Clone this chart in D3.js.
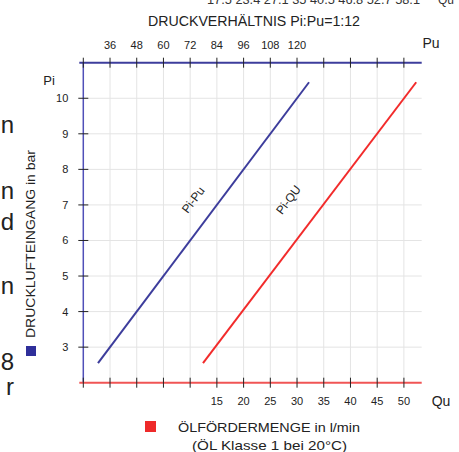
<!DOCTYPE html>
<html>
<head>
<meta charset="utf-8">
<script src="https://cdn.jsdelivr.net/npm/d3@7"></script>
<style>
  html, body { margin: 0; padding: 0; background: #fff; }
  svg { display: block; font-family: 'Liberation Sans', Arial, sans-serif; }
</style>
</head>
<body>
<svg id="chart" width="459" height="452"></svg>
<script>
// Pi (inlet pressure, bar) against Pu (outlet pressure) and Qu (oil flow l/min)
const piVals = [2.55, 10.45]
const puVals = [30.6, 125.4]
const quVals = [12.4, 52.3]

const piTicks = [3, 4, 5, 6, 7, 8, 9, 10]
const puTicks = [36, 48, 60, 72, 84, 96, 108, 120, 132, 144, 156, 168]
const puLabels = [36, 48, 60, 72, 84, 96, 108, 120]
const quTicks = [-5, 0, 5, 10, 15, 20, 25, 30, 35, 40, 45, 50]
const quLabels = [15, 20, 25, 30, 35, 40, 45, 50]

// clipped bits of a neighbouring table / page
const topCutText = '17.5 23.4 27.1 35 40.5 46.8 52.7 58.1'
const leftCutLetters = [
  { t: 'n', y: 133 }, { t: 'n', y: 199 }, { t: 'd', y: 230 },
  { t: 'n', y: 294 }, { t: '8', y: 370 }, { t: 'r', y: 395 }
]

const BLUE = '#3d3d9c'
const RED = '#f22b2b'
const GRID = '#e4e4e4'

const L = 83.3, R = 421.7, T = 62.7, B = 382.7

const svg = d3.select('#chart')

const x = d3.scaleLinear().domain([24, 176]).range([L, R])
const xq = d3.scaleLinear().domain([-10, 53.33]).range([L, R])
const y = d3.scaleLinear().domain([2, 11]).range([B, T])

// grid
svg.append('g')
  .selectAll('line')
  .data(puTicks)
  .join('line')
  .attr('x1', d => x(d)).attr('x2', d => x(d))
  .attr('y1', T).attr('y2', B)
  .attr('stroke', GRID).attr('stroke-width', 1)

svg.append('g')
  .selectAll('line')
  .data(piTicks)
  .join('line')
  .attr('x1', L).attr('x2', R)
  .attr('y1', d => y(d)).attr('y2', d => y(d))
  .attr('stroke', GRID).attr('stroke-width', 1)

// axes lines
svg.append('line')
  .attr('x1', L).attr('x2', L).attr('y1', T).attr('y2', B)
  .attr('stroke', '#5050b8').attr('stroke-width', 1.5)
svg.append('line')
  .attr('x1', L - 4).attr('x2', R).attr('y1', T).attr('y2', T)
  .attr('stroke', BLUE).attr('stroke-width', 2)
svg.append('line')
  .attr('x1', L - 4).attr('x2', R).attr('y1', B).attr('y2', B)
  .attr('stroke', '#f05555').attr('stroke-width', 2)

// ticks (crossing the axis)
const tickG = svg.append('g').attr('stroke', '#222').attr('stroke-width', 1)
tickG.selectAll('line.top')
  .data([24].concat(puTicks))
  .join('line')
  .attr('class', 'top')
  .attr('x1', d => x(d)).attr('x2', d => x(d))
  .attr('y1', T - 5).attr('y2', T + 5)
tickG.selectAll('line.bot')
  .data([-10].concat(quTicks))
  .join('line')
  .attr('class', 'bot')
  .attr('x1', d => xq(d)).attr('x2', d => xq(d))
  .attr('y1', B - 5).attr('y2', B + 5)
tickG.selectAll('line.left')
  .data(piTicks)
  .join('line')
  .attr('class', 'left')
  .attr('x1', L - 5).attr('x2', L + 5)
  .attr('y1', d => y(d)).attr('y2', d => y(d))

// tick labels
svg.append('g')
  .selectAll('text')
  .data(puLabels)
  .join('text')
  .attr('x', d => x(d)).attr('y', 49)
  .attr('text-anchor', 'middle')
  .attr('font-size', 11).attr('fill', '#222')
  .text(d => d)

svg.append('g')
  .selectAll('text')
  .data(quLabels)
  .join('text')
  .attr('x', d => xq(d)).attr('y', 405)
  .attr('text-anchor', 'middle')
  .attr('font-size', 11).attr('fill', '#222')
  .text(d => d)

svg.append('g')
  .selectAll('text')
  .data(piTicks)
  .join('text')
  .attr('x', L - 15).attr('y', d => y(d) + 4)
  .attr('text-anchor', 'end')
  .attr('font-size', 11).attr('fill', '#222')
  .text(d => d)

// axis names
svg.append('text').attr('x', 49).attr('y', 85).attr('text-anchor', 'middle')
  .attr('font-size', 13).attr('fill', '#222').text('Pi')
svg.append('text').attr('x', 431).attr('y', 48).attr('text-anchor', 'middle')
  .attr('font-size', 14).attr('fill', '#222').text('Pu')
svg.append('text').attr('x', 441).attr('y', 406).attr('text-anchor', 'middle')
  .attr('font-size', 14).attr('fill', '#222').text('Qu')

// the two curves
const pts = piVals.map((p, i) => ({ pi: p, pu: puVals[i], qu: quVals[i] }))
svg.append('path')
  .datum(pts)
  .attr('fill', 'none').attr('stroke', BLUE).attr('stroke-width', 2)
  .attr('d', d3.line().x(d => x(d.pu)).y(d => y(d.pi)))
svg.append('path')
  .datum(pts)
  .attr('fill', 'none').attr('stroke', RED).attr('stroke-width', 2)
  .attr('d', d3.line().x(d => xq(d.qu)).y(d => y(d.pi)))

const ang = -Math.atan2(y(piVals[0]) - y(piVals[1]), x(puVals[1]) - x(puVals[0])) * 180 / Math.PI
svg.append('text')
  .attr('transform', `translate(${x(85.6) - 24},${y(7.13) + 2}) rotate(${ang})`)
  .attr('text-anchor', 'middle')
  .attr('font-size', 12).attr('fill', '#222').text('Pi-Pu')
svg.append('text')
  .attr('transform', `translate(${xq(33.5) - 24},${y(7.13) + 2}) rotate(${ang})`)
  .attr('text-anchor', 'middle')
  .attr('font-size', 12).attr('fill', '#222').text('Pi-QU')

// title
svg.append('text').attr('x', 254).attr('y', 26).attr('text-anchor', 'middle')
  .attr('font-size', 14).attr('fill', '#222')
  .attr('textLength', 212).attr('lengthAdjust', 'spacingAndGlyphs')
  .text('DRUCKVERHÄLTNIS Pi:Pu=1:12')

// y axis title with blue marker
svg.append('rect').attr('x', 26).attr('y', 346).attr('width', 10).attr('height', 10).attr('fill', '#2f2f9a')
svg.append('text')
  .attr('transform', 'translate(35,338) rotate(-90)')
  .attr('font-size', 12).attr('fill', '#222')
  .attr('textLength', 188).attr('lengthAdjust', 'spacingAndGlyphs')
  .text('DRUCKLUFTEINGANG in bar')

// bottom legend
svg.append('rect').attr('x', 145).attr('y', 421).attr('width', 11).attr('height', 11).attr('fill', '#ee2a2a')
svg.append('text').attr('x', 178).attr('y', 432)
  .attr('font-size', 13).attr('fill', '#222')
  .attr('textLength', 182).attr('lengthAdjust', 'spacingAndGlyphs')
  .text('ÖLFÖRDERMENGE in l/min')
svg.append('text').attr('x', 192).attr('y', 450)
  .attr('font-size', 13).attr('fill', '#222')
  .attr('textLength', 155).attr('lengthAdjust', 'spacingAndGlyphs')
  .text('(ÖL Klasse 1 bei 20°C)')

// cut-off pieces at the image edges
svg.append('text').attr('x', 207).attr('y', 4)
  .attr('font-size', 12).attr('fill', '#333')
  .attr('textLength', 213).attr('lengthAdjust', 'spacingAndGlyphs')
  .text(topCutText)
svg.append('text').attr('x', 438).attr('y', 4)
  .attr('font-size', 12).attr('fill', '#333').text('Qu')

svg.append('g')
  .selectAll('text')
  .data(leftCutLetters)
  .join('text')
  .attr('x', 14).attr('y', d => d.y)
  .attr('text-anchor', 'end')
  .attr('font-size', 24).attr('fill', '#222')
  .text(d => d.t)
</script>
</body>
</html>
